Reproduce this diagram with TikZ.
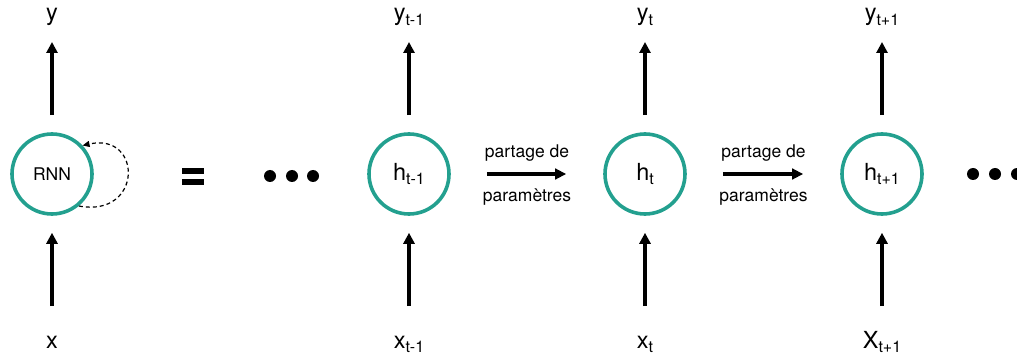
\documentclass[tikz,border=0pt]{standalone}
\usepackage{fontspec}
\setmainfont{TeX Gyre Heros}
\usetikzlibrary{arrows.meta}
\definecolor{cellteal}{RGB}{35,160,143}
% lowered, smaller index text
\newcommand\idx[1]{\raisebox{-0.35ex}{\fontsize{16}{16}\selectfont #1}}
\begin{document}
\begin{tikzpicture}[x=1pt,y=-1pt,
  cell/.style={circle,draw=cellteal,line width=3.6pt,minimum size=80pt,inner sep=0pt,
               font=\fontsize{23.5}{23.5}\selectfont},
  io/.style={-{Triangle[length=11pt,width=11pt]},line width=3.8pt},
  lbl/.style={font=\fontsize{23.5}{23.5}\selectfont,inner sep=0pt,anchor=base},
  share/.style={-{Triangle[length=11pt,width=10.5pt]},line width=3.3pt,
                shorten <=36pt,shorten >=37pt},
  note/.style={font=\fontsize{17.5}{17.5}\selectfont,inner sep=0pt,anchor=base},
  dot/.style={circle,fill=black,minimum size=12pt,inner sep=0pt},
  loop/.style={-{Triangle[length=7pt,width=6pt]},line width=1.2pt,dash pattern=on 4pt off 3pt}]
\useasboundingbox (0,0) rectangle (1017,358);

% folded network
\node[cell,font=\fontsize{17.5}{17.5}\selectfont] (c0) at (52,174) {RNN};
\node[lbl] (y0) at (52,21) {y};
\node[lbl] (x0) at (52,348) {x};
\coordinate (in0) at (52,306);
\coordinate (out0) at (52,42);
\draw[io,shorten >=17pt] (in0) -- (c0);
\draw[io,shorten <=17pt] (c0) -- (out0);
\draw[loop] (c0.-50) .. controls (143,218) and (143,132) .. (c0.43);

% equals sign
\fill (182,168) rectangle (204,174);
\fill (182,179) rectangle (204,185);

% leading dots
\node[dot] (d1) at (270,176) {};
\node[dot] (d2) at (292,176) {};
\node[dot] (d3) at (313,176) {};

% unrolled cells
\node[cell] (c1) at (409,174) {h\idx{t-1}};
\node[cell] (c2) at (645,174) {h\idx{t}};
\node[cell] (c3) at (882,174) {h\idx{t+1}};

\node[lbl] (y1) at (409,21) {y\idx{t-1}};
\node[lbl] (y2) at (645,21) {y\idx{t}};
\node[lbl] (y3) at (882,21) {y\idx{t+1}};
\node[lbl] (x1) at (409,348) {x\idx{t-1}};
\node[lbl] (x2) at (645,348) {x\idx{t}};
\node[lbl] (x3) at (882,348) {X\idx{t+1}};

\foreach \i/\cx in {1/409,2/645,3/882}{
  \coordinate (in\i) at (\cx,306);
  \coordinate (out\i) at (\cx,42);
  \draw[io,shorten >=17pt] (in\i) -- (c\i);
  \draw[io,shorten <=17pt] (c\i) -- (out\i);
}

% parameter sharing
\draw[share] (c1) -- (c2);
\draw[share] (c2) -- (c3);
\node[note] (p1a) at (527,158) {partage de};
\node[note] (p1b) at (527,201) {paramètres};
\node[note] (p2a) at (763.5,158) {partage de};
\node[note] (p2b) at (763.5,201) {paramètres};

% trailing dots
\node[dot] (d4) at (973,174) {};
\node[dot] (d5) at (995,174) {};
\node[dot] (d6) at (1017,174) {};
\end{tikzpicture}
\end{document}
